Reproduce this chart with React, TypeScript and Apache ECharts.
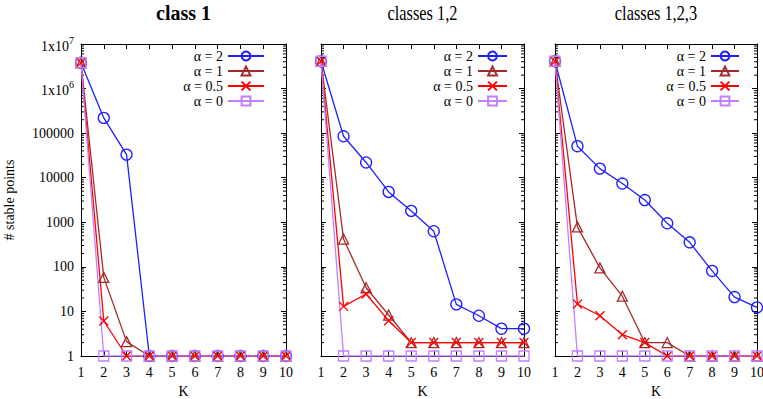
import React, { useEffect, useRef } from 'react';
import * as echarts from 'echarts';

const kValues = [1, 2, 3, 4, 5, 6, 7, 8, 9, 10];
const seriesNames = ['α = 2', 'α = 1', 'α = 0.5', 'α = 0'];
const panelTitles = ['class 1', 'classes 1,2', 'classes 1,2,3'];
const yAxisName = '# stable points';
const xAxisName = 'K';

// class 1
const class1Alpha2 = [3.8e6, 2.2e5, 3.3e4, 1, 1, 1, 1, 1, 1, 1];
const class1Alpha1 = [3.8e6, 58, 2.1, 1, 1, 1, 1, 1, 1, 1];
const class1Alpha05 = [3.8e6, 6.1, 1, 1, 1, 1, 1, 1, 1, 1];
const class1Alpha0 = [3.8e6, 1, 1, 1, 1, 1, 1, 1, 1, 1];
// classes 1,2
const class12Alpha2 = [4.1e6, 8.5e4, 2.2e4, 4800, 1800, 630, 14.4, 8, 4.1, 4.1];
const class12Alpha1 = [4.1e6, 420, 34, 8.3, 2, 2, 2, 2, 2, 2];
const class12Alpha05 = [4.1e6, 13, 24.6, 6.2, 2, 2, 2, 2, 2, 2];
const class12Alpha0 = [4.1e6, 1, 1, 1, 1, 1, 1, 1, 1, 1];
// classes 1,2,3
const class123Alpha2 = [4.1e6, 5.1e4, 1.6e4, 7400, 3150, 950, 355, 81, 21, 12.3];
const class123Alpha1 = [4.1e6, 790, 95, 22, 2, 2, 1, 1, 1, 1];
const class123Alpha05 = [4.1e6, 14.7, 8, 3, 2, 1, 1, 1, 1, 1];
const class123Alpha0 = [4.1e6, 1, 1, 1, 1, 1, 1, 1, 1, 1];

const panels = [
  [class1Alpha2, class1Alpha1, class1Alpha05, class1Alpha0],
  [class12Alpha2, class12Alpha1, class12Alpha05, class12Alpha0],
  [class123Alpha2, class123Alpha1, class123Alpha05, class123Alpha0],
];

const minorTickValues: number[] = [];
for (let d = 0; d < 7; d++) for (let m = 2; m <= 9; m++) minorTickValues.push(m * Math.pow(10, d));

const FONT = 'Liberation Serif';
const colors = ['#1f1fff', '#a52a2a', '#ff0000', '#c080ff'];
const symbols = ['circle', 'triangle', 'path://M0 0L10 10M10 0L0 10', 'rect'];
const symbolSizes = [11, 10, 9, 10];

const grids = [
  { left: 81, top: 44, width: 205, height: 312 },
  { left: 321, top: 44, width: 203, height: 312 },
  { left: 555, top: 44, width: 202, height: 312 },
];
const legendRight = [493, 250, 18];
const legendItemWidth = [36, 29, 28];
const titleStyles = [
  { font: `bold 20px "${FONT}"`, scaleX: 1 },
  { font: `21px "${FONT}"`, scaleX: 0.78 },
  { font: `21px "${FONT}"`, scaleX: 0.78 },
];

export default function App() {
  const ref = useRef<HTMLDivElement>(null);
  useEffect(() => {
    if (!ref.current) return;
    const chart = echarts.init(ref.current, null, { renderer: 'svg' });
    const xAxes: any[] = [];
    const yAxes: any[] = [];
    const series: any[] = [];
    grids.forEach((g, gi) => {
      xAxes.push({
        type: 'value', gridIndex: gi, min: 1, max: 10, interval: 1, position: 'bottom',
        name: xAxisName, nameLocation: 'middle', nameGap: 28,
        nameTextStyle: { fontFamily: FONT, fontSize: 14, color: '#000' },
        axisLine: { lineStyle: { color: '#000', width: 1 } },
        axisTick: { inside: true, length: 5, lineStyle: { color: '#000' } },
        axisLabel: { fontFamily: FONT, fontSize: 14, color: '#000', margin: 9 },
        splitLine: { show: false },
      });
      xAxes.push({
        type: 'value', gridIndex: gi, min: 1, max: 10, interval: 1, position: 'top',
        axisLine: { lineStyle: { color: '#000', width: 1 } },
        axisTick: { inside: true, length: 5, lineStyle: { color: '#000' } },
        axisLabel: { show: false }, splitLine: { show: false },
      });
      yAxes.push({
        type: 'log', logBase: 10, gridIndex: gi, min: 1, max: 1e7, splitNumber: 7, position: 'left',
        axisLine: { show: true, lineStyle: { color: '#000', width: 1 } },
        axisTick: { show: true, inside: true, length: 5, lineStyle: { color: '#000' } },
        axisLabel: {
          show: gi === 0, margin: 7, fontFamily: FONT, fontSize: 14, color: '#000',
          formatter: (v: number) => {
            const e = Math.round(Math.log10(v));
            if (e >= 6) return `{b|1x10}{s|${e}}`;
            return String(Math.round(v));
          },
          rich: {
            b: { fontFamily: FONT, fontSize: 14, color: '#000', verticalAlign: 'bottom', padding: [4, 0, 0, 0] },
            s: { fontFamily: FONT, fontSize: 10, color: '#000', verticalAlign: 'top' },
          },
        },
        splitLine: { show: false },
      });
      yAxes.push({
        type: 'log', logBase: 10, gridIndex: gi, min: 1, max: 1e7, splitNumber: 7, position: 'right',
        axisLine: { show: true, lineStyle: { color: '#000', width: 1 } },
        axisTick: { show: true, inside: true, length: 5, lineStyle: { color: '#000' } },
        axisLabel: { show: false }, splitLine: { show: false },
      });
      series.push({
        type: 'custom', xAxisIndex: gi * 2, yAxisIndex: gi * 2, silent: true, clip: false,
        data: minorTickValues.map((v) => [1, v]),
        renderItem: (params: any, api: any) => {
          const l = api.coord([1, api.value(1)]);
          const r = api.coord([10, api.value(1)]);
          return {
            type: 'group',
            children: [
              { type: 'line', shape: { x1: l[0], y1: l[1], x2: l[0] + 3, y2: l[1] }, style: { stroke: '#000', lineWidth: 1 } },
              { type: 'line', shape: { x1: r[0] - 3, y1: r[1], x2: r[0], y2: r[1] }, style: { stroke: '#000', lineWidth: 1 } },
            ],
          };
        },
      });
      panels[gi].forEach((vals, si) => {
        series.push({
          type: 'line', name: seriesNames[si], xAxisIndex: gi * 2, yAxisIndex: gi * 2,
          data: kValues.map((k, i) => [k, vals[i]]),
          symbol: symbols[si], symbolSize: symbolSizes[si], showAllSymbol: true,
          lineStyle: { color: colors[si], width: 1.3 },
          itemStyle: { color: 'transparent', borderColor: colors[si], borderWidth: 1.3 },
          emphasis: { disabled: true },
        });
      });
    });

    const graphics: any[] = grids.map((g, gi) => ({
      type: 'text', x: g.left + g.width / 2, y: 13, scaleX: titleStyles[gi].scaleX,
      style: { text: panelTitles[gi], align: 'center', verticalAlign: 'middle', font: titleStyles[gi].font, fill: '#000' },
    }));
    graphics.push({
      type: 'text', x: 9, y: 200, rotation: Math.PI / 2,
      style: { text: yAxisName, align: 'center', verticalAlign: 'middle', font: `14px "${FONT}"`, fill: '#000' },
    });

    chart.setOption({
      animation: false,
      backgroundColor: '#fff',
      grid: grids.map((g) => ({ ...g, containLabel: false, outerBoundsMode: 'none' })),
      xAxis: xAxes,
      yAxis: yAxes,
      legend: grids.map((g, gi) => ({
        data: seriesNames, orient: 'vertical', right: legendRight[gi], top: 44, align: 'right',
        itemWidth: legendItemWidth[gi], itemHeight: 11, itemGap: 1, selectedMode: false,
        textStyle: { fontFamily: FONT, fontSize: 14, color: '#000' },
      })),
      series,
      graphic: graphics,
    });
    return () => chart.dispose();
  }, []);
  return <div ref={ref} style={{ position: 'fixed', left: 0, top: 0, width: 763, height: 399 }} />;
}
